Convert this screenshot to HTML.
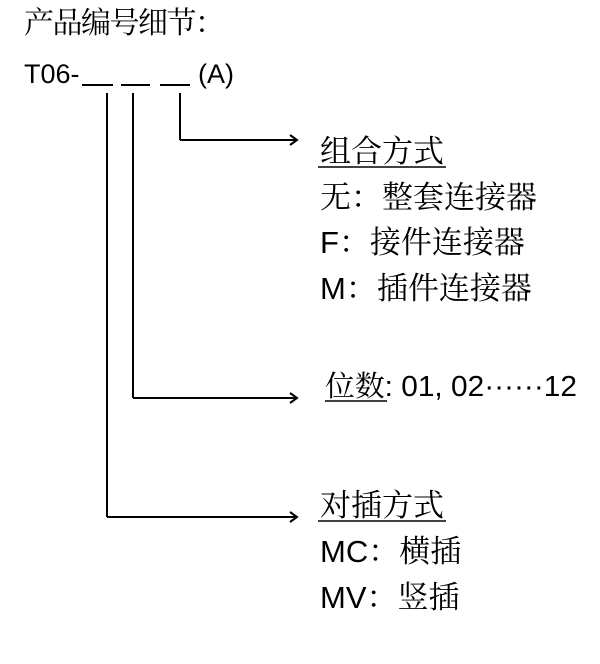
<!DOCTYPE html>
<html><head><meta charset="utf-8"><style>
html,body{margin:0;padding:0;background:#fff;}
svg text{font-family:"Liberation Sans","Noto Sans CJK SC",sans-serif;fill:#000;}
</style></head><body>
<svg width="600" height="659" viewBox="0 0 600 659" xmlns="http://www.w3.org/2000/svg">
<text x="24" y="33" font-size="30" textLength="201" lengthAdjust="spacing" style="font-family:'Noto Serif CJK SC',serif">产品编号细节：</text>
<text x="24" y="83" font-size="27">T06-</text>
<g stroke="#000" stroke-width="2" fill="none">
<line x1="82" y1="85" x2="113" y2="85"/>
<line x1="121" y1="85" x2="150" y2="85"/>
<line x1="160" y1="85" x2="190" y2="85"/>
<line x1="107" y1="93" x2="107" y2="517"/>
<line x1="133" y1="93" x2="133" y2="398"/>
<line x1="180" y1="93" x2="180" y2="140"/>
<line x1="180" y1="140" x2="296" y2="140"/>
<line x1="133" y1="398" x2="296" y2="398"/>
<line x1="107" y1="517" x2="296" y2="517"/>
<polyline points="290,135 297,140 290,145"/>
<polyline points="290,393 297,398 290,403"/>
<polyline points="290,512 297,517 290,522"/>
<line x1="318" y1="167" x2="446" y2="167" stroke-width="1.5"/>
<line x1="325" y1="401" x2="387" y2="401" stroke-width="1.5"/>
<line x1="318" y1="521" x2="446" y2="521" stroke-width="1.5"/>
</g>
<text x="198" y="83" font-size="27">(A)</text>
<g font-size="31">
<text x="320" y="162" style="font-family:'Noto Serif CJK SC',serif">组合方式</text>
<text x="320" y="208" style="font-family:'Noto Serif CJK SC',serif">无：整套连接器</text>
<text x="320" y="253">F<tspan style="font-family:'Noto Serif CJK SC',serif">：接件连接器</tspan></text>
<text x="320" y="299">M<tspan style="font-family:'Noto Serif CJK SC',serif">：插件连接器</tspan></text>
<text x="325" y="396" font-size="29" textLength="252" lengthAdjust="spacingAndGlyphs"><tspan style="font-family:'Noto Serif CJK SC',serif">位数</tspan>: 01, 02······12</text>
<text x="320" y="516" style="font-family:'Noto Serif CJK SC',serif">对插方式</text>
<text x="320" y="562">MC<tspan style="font-family:'Noto Serif CJK SC',serif">：横插</tspan></text>
<text x="320" y="608">MV<tspan style="font-family:'Noto Serif CJK SC',serif">：竖插</tspan></text>
</g>
</svg>
</body></html>
